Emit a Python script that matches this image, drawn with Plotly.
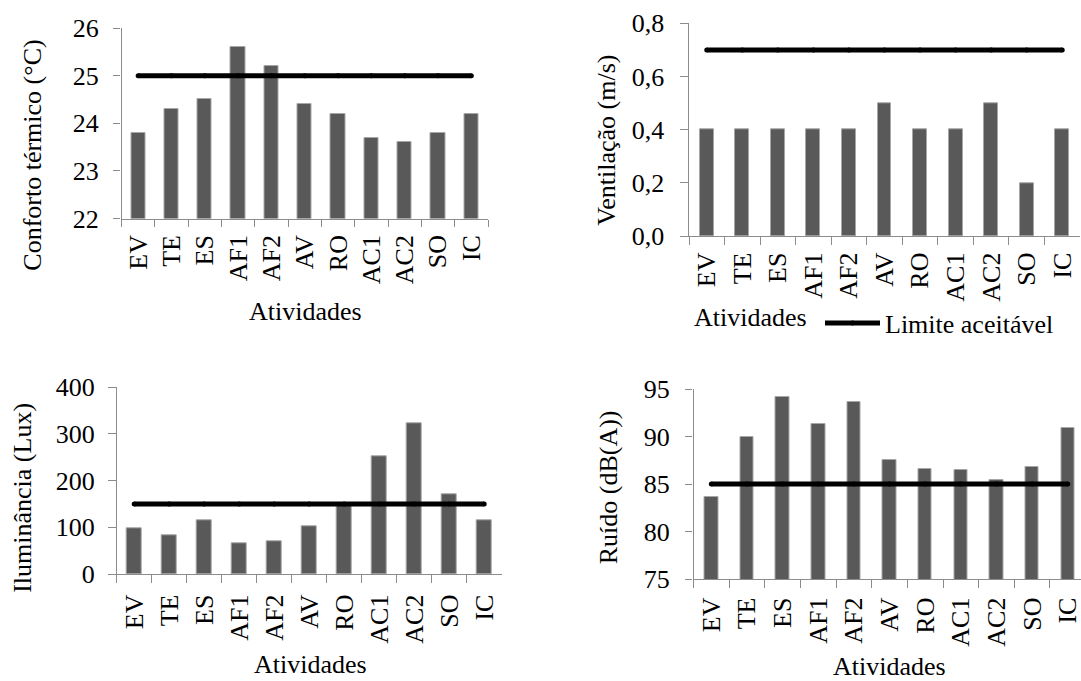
import plotly.graph_objects as go

# ---------------- data ----------------
categories = ["EV", "TE", "ES", "AF1", "AF2", "AV", "RO", "AC1", "AC2", "SO", "IC"]
conforto = [23.8, 24.3, 24.5, 25.6, 25.2, 24.4, 24.2, 23.7, 23.6, 23.8, 24.2]
ventilacao = [0.4, 0.4, 0.4, 0.4, 0.4, 0.5, 0.4, 0.4, 0.5, 0.2, 0.4]
iluminancia = [97, 82, 116, 66, 71, 103, 148, 252, 323, 171, 116]
ruido = [83.6, 89.9, 94.2, 91.3, 93.6, 87.5, 86.6, 86.5, 85.4, 86.8, 90.9]
limite_conforto = 25
limite_ventilacao = 0.7
limite_iluminancia = 150
limite_ruido = 85
x_title = "Atividades"
legend_label = "Limite aceitável"

W, H = 1081, 681
FONT = "Liberation Serif, Times New Roman, serif"
AXC = "#8c8c8c"
BAR = "#595959"


def fx(p):
    return p / W


def fy(p):
    return 1 - p / H


panels = [
    dict(vals=conforto, lim=limite_conforto, ytitle="Conforto térmico (°C)",
         yrange=[22, 26], dtick=1, fmt="", xd=(121.5, 488), yd=(28, 218.5),
         bw=0.43, xr=[-0.5, 10.5], legend=False, xso=5, yso=9,
         yt=(31.7, 155), xt=(305, 311)),
    dict(vals=ventilacao, lim=limite_ventilacao, ytitle="Ventilação (m/s)",
         yrange=[0, 0.8], dtick=0.2, fmt=".1f", xd=(689, 1080), yd=(23.3, 236),
         bw=0.39, xr=[-0.5, 10.5], legend=True, xso=5, yso=11,
         yt=(607, 140.7), xt=(750, 317)),
    dict(vals=iluminancia, lim=limite_iluminancia, ytitle="Iluminância (Lux)",
         yrange=[0, 400], dtick=100, fmt="", xd=(116.7, 501.7), yd=(387.3, 574),
         bw=0.43, xr=[-0.5, 10.5], legend=False, xso=9, yso=8,
         yt=(22.5, 498.3), xt=(310, 664)),
    dict(vals=ruido, lim=limite_ruido, ytitle="Ruído (dB(A))",
         yrange=[75, 95], dtick=5, fmt="", xd=(693.5, 1081), yd=(389, 579),
         bw=0.38, xr=[-0.5, 10.37], legend=False, xso=7, yso=10,
         yt=(608, 487.3), xt=(889, 666)),
]

fig = go.Figure()
annotations = []
layout_axes = {}

for i, p in enumerate(panels):
    k = "" if i == 0 else str(i + 1)
    xa, ya = "x" + k, "y" + k
    fig.add_trace(go.Bar(
        x=categories, y=p["vals"], xaxis=xa, yaxis=ya, width=p["bw"],
        marker=dict(color=BAR, line=dict(color="#a6a6a6", width=1)),
        showlegend=False, name=p["ytitle"],
    ))
    fig.add_trace(go.Scatter(
        x=categories, y=[p["lim"]] * len(categories), xaxis=xa, yaxis=ya,
        mode="lines+markers", line=dict(color="black", width=5),
        marker=dict(color="black", size=5),
        name=legend_label, showlegend=p["legend"],
    ))
    layout_axes["xaxis" + k] = dict(
        domain=[fx(p["xd"][0]), fx(p["xd"][1])], anchor=ya,
        type="category", range=p["xr"], tickson="boundaries",
        ticks="outside", ticklen=7.5, tickwidth=1.3, tickcolor=AXC,
        showline=True, linecolor=AXC, linewidth=1.3,
        showgrid=False, zeroline=False, tickangle=-90,
        ticklabelstandoff=p["xso"],
        tickfont=dict(family=FONT, size=26, color="black"),
    )
    layout_axes["yaxis" + k] = dict(
        domain=[fy(p["yd"][1]), fy(p["yd"][0])], anchor=xa,
        range=p["yrange"], dtick=p["dtick"], tick0=p["yrange"][0],
        tickformat=p["fmt"],
        ticks="outside", ticklen=7.5, tickwidth=1.3, tickcolor=AXC,
        showline=True, linecolor=AXC, linewidth=1.3,
        showgrid=False, zeroline=False, ticklabelstandoff=p["yso"],
        tickfont=dict(family=FONT, size=26, color="black"),
    )
    annotations.append(dict(
        text=p["ytitle"], textangle=-90, xref="paper", yref="paper",
        x=fx(p["yt"][0]), y=fy(p["yt"][1]), xanchor="center", yanchor="middle",
        showarrow=False, font=dict(family=FONT, size=26, color="black"),
    ))
    annotations.append(dict(
        text=x_title, xref="paper", yref="paper",
        x=fx(p["xt"][0]), y=fy(p["xt"][1]), xanchor="center", yanchor="middle",
        showarrow=False, font=dict(family=FONT, size=26, color="black"),
    ))

fig.update_layout(
    width=W, height=H, margin=dict(l=0, r=0, t=0, b=0),
    template="none", paper_bgcolor="white", plot_bgcolor="white",
    separators=",.", bargap=0,
    font=dict(family=FONT, size=26, color="black"),
    showlegend=True,
    legend=dict(x=fx(820), y=fy(323), xanchor="left", yanchor="middle",
                bgcolor="rgba(0,0,0,0)", borderwidth=0, itemwidth=55,
                font=dict(family=FONT, size=26, color="black")),
    annotations=annotations,
    **layout_axes,
)

fig.write_html(
    "out.html",
    config={"displayModeBar": False},
    post_script="document.body.style.margin='0';document.body.style.overflow='hidden';",
)
